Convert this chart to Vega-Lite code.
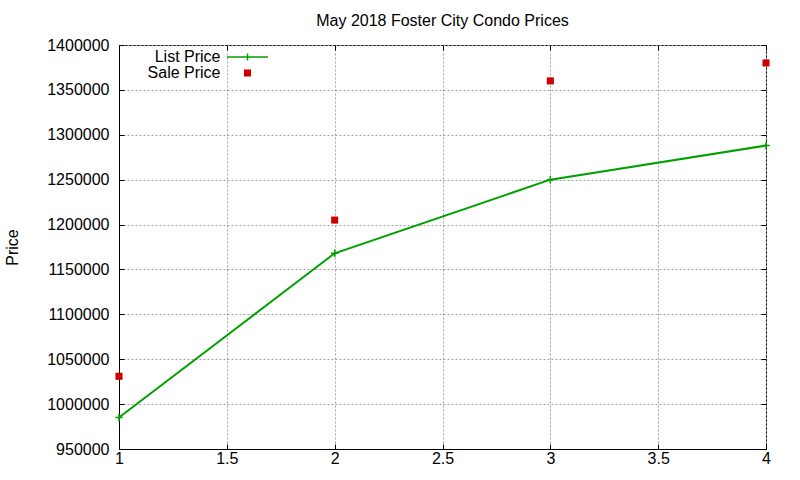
{
  "$schema": "https://vega.github.io/schema/vega-lite/v6.json",
  "width": 647,
  "height": 404,
  "autosize": {"type": "none"},
  "padding": {"left": 119, "top": 45, "right": 34, "bottom": 31},
  "background": "white",
  "config": {
    "font": "Liberation Sans",
    "view": {"stroke": "black", "strokeWidth": 1},
    "axis": {
      "labelFontSize": 16,
      "labelColor": "black",
      "labelFlush": false,
      "labelOverlap": false,
      "tickColor": "black",
      "tickSize": -5,
      "domainColor": "black",
      "gridColor": "#a0a0a0",
      "gridDash": [2, 2],
      "titleFontSize": 16,
      "titleFontWeight": "normal",
      "titleColor": "black"
    },
    "legend": {
      "orient": "none",
      "legendX": 120.5,
      "legendY": 4,
      "padding": 0,
      "title": null,
      "symbolSize": 50,
      "labelFontSize": 16,
      "labelColor": "black",
      "labelAlign": "right",
      "labelOffset": -35,
      "rowPadding": -1
    }
  },
  "title": {
    "text": "May 2018 Foster City Condo Prices",
    "fontSize": 16,
    "fontWeight": "normal",
    "color": "black",
    "anchor": "middle",
    "baseline": "alphabetic",
    "offset": -5
  },
  "data": {
    "values": [
      {"x": 1, "series": "List Price", "price": 985000},
      {"x": 2, "series": "List Price", "price": 1168000},
      {"x": 3, "series": "List Price", "price": 1250000},
      {"x": 4, "series": "List Price", "price": 1288000},
      {"x": 1, "series": "Sale Price", "price": 1031000},
      {"x": 2, "series": "Sale Price", "price": 1205000},
      {"x": 3, "series": "Sale Price", "price": 1360000},
      {"x": 4, "series": "Sale Price", "price": 1380000}
    ]
  },
  "resolve": {"axis": {"x": "independent", "y": "independent"}},
  "layer": [
    {
      "transform": [{"filter": "datum.series === 'List Price'"}],
      "mark": {"type": "line", "color": "#00a000", "strokeWidth": 2},
      "encoding": {
        "x": {
          "field": "x",
          "type": "quantitative",
          "scale": {"domain": [1, 4], "nice": false, "zero": false},
          "axis": {
            "orient": "bottom",
            "values": [1, 1.5, 2, 2.5, 3, 3.5, 4],
            "format": "~g",
            "title": null,
            "labelPadding": 6
          }
        },
        "y": {
          "field": "price",
          "type": "quantitative",
          "scale": {"domain": [950000, 1400000], "nice": false, "zero": false},
          "axis": {
            "orient": "left",
            "values": [950000, 1000000, 1050000, 1100000, 1150000, 1200000, 1250000, 1300000, 1350000, 1400000],
            "format": "d",
            "title": "Price",
            "labelPadding": 15,
            "titlePadding": 26
          }
        }
      }
    },
    {
      "transform": [{"filter": "datum.series === 'List Price'"}],
      "mark": {"type": "point", "shape": "M-1.05,0H1.05M0,-1.05V1.05", "size": 50, "strokeWidth": 1.5, "opacity": 1, "filled": false, "color": "#00a000"},
      "encoding": {
        "x": {"field": "x", "type": "quantitative", "axis": null},
        "y": {"field": "price", "type": "quantitative", "axis": null}
      }
    },
    {
      "transform": [{"filter": "datum.series === 'Sale Price'"}],
      "mark": {"type": "point", "shape": "square", "size": 50, "opacity": 1, "filled": true, "color": "#cc0000", "strokeWidth": 0},
      "encoding": {
        "x": {"field": "x", "type": "quantitative", "axis": null},
        "y": {"field": "price", "type": "quantitative", "axis": null}
      }
    },
    {
      "transform": [{"filter": "false"}],
      "mark": {"type": "point", "size": 50, "strokeWidth": 2, "opacity": 1},
      "encoding": {
        "x": {"field": "x", "type": "quantitative", "axis": null},
        "y": {"field": "price", "type": "quantitative", "axis": null},
        "shape": {
          "field": "series",
          "type": "nominal",
          "scale": {"domain": ["List Price", "Sale Price"], "range": ["M-5.8,0H5.8M0,-1V1", "square"]}
        },
        "fill": {
          "field": "series",
          "type": "nominal",
          "scale": {"domain": ["List Price", "Sale Price"], "range": ["transparent", "#cc0000"]}
        },
        "stroke": {
          "field": "series",
          "type": "nominal",
          "scale": {"domain": ["List Price", "Sale Price"], "range": ["#00a000", "transparent"]}
        }
      }
    },
    {
      "mark": {"type": "point", "opacity": 0},
      "encoding": {
        "x": {
          "field": "x",
          "type": "quantitative",
          "axis": {"orient": "top", "values": [1, 1.5, 2, 2.5, 3, 3.5, 4], "labels": false, "grid": false, "domain": false, "title": null}
        },
        "y": {
          "field": "price",
          "type": "quantitative",
          "axis": {"orient": "right", "values": [950000, 1000000, 1050000, 1100000, 1150000, 1200000, 1250000, 1300000, 1350000, 1400000], "labels": false, "grid": false, "domain": false, "title": null}
        }
      }
    }
  ]
}
